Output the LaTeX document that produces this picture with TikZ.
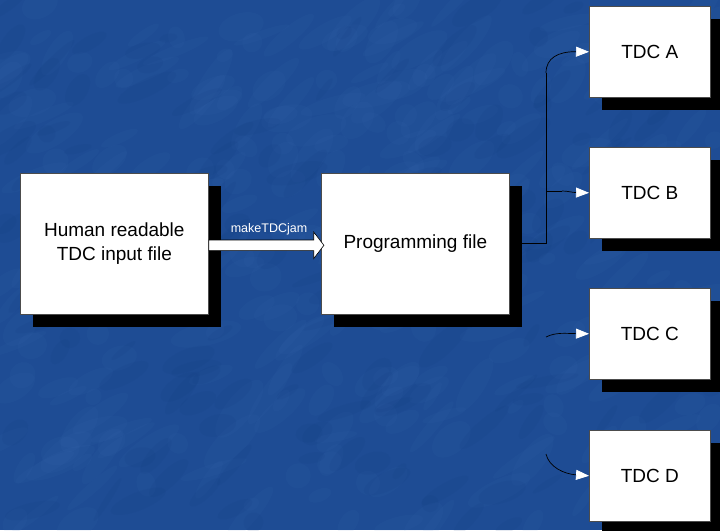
\documentclass[tikz,border=0pt]{standalone}
\usepackage{fontspec}
\setmainfont{Liberation Sans}
\usetikzlibrary{arrows.meta,shapes.arrows,shadows}
\definecolor{slideblue}{RGB}{30,76,148}
\definecolor{slidelight}{RGB}{70,120,190}
\definecolor{slidedark}{RGB}{18,58,125}
\pgfdeclarelayer{back}
\pgfdeclarelayer{wires}
\pgfsetlayers{back,wires,main}
\tikzset{
  card/.style={draw=black!70, line width=0.6pt, fill=white, inner sep=0pt,
    align=center, anchor=north west, font=\fontsize{19}{24}\selectfont,
    drop shadow={shadow xshift=13pt, shadow yshift=-13pt, fill=black, opacity=1}},
  bigcard/.style={card, minimum width=188pt, minimum height=141pt},
  tdccard/.style={card, minimum width=121pt, minimum height=91pt},
  feed/.style={draw=black, line width=0.7pt,
    -{Triangle[length=13pt,width=10pt,color=white,fill=white]}},
  blockarrow/.style={single arrow, draw=black, line width=0.6pt, fill=white,
    inner sep=5pt, minimum height=115pt, single arrow head extend=8pt,
    single arrow tip angle=105, anchor=west}
}
\begin{document}
\begin{tikzpicture}[x=1pt,y=-1pt]
\useasboundingbox (0,0) rectangle (720,530);
\begin{pgfonlayer}{back}
  \fill[slideblue] (0,0) rectangle (720,530);
  % soft mottled texture
  \pgfmathsetseed{7}
  \foreach \i in {1,...,320}{
    \pgfmathsetmacro{\px}{rnd*720}
    \pgfmathsetmacro{\py}{rnd*530}
    \pgfmathsetmacro{\rx}{8+rnd*30}
    \pgfmathsetmacro{\ry}{4+rnd*10}
    \pgfmathsetmacro{\ang}{10+rnd*50}
    \fill[slidelight, opacity=0.07, rotate around={\ang:(\px,\py)}]
      (\px,\py) ellipse ({\rx pt} and {\ry pt});
  }
  \foreach \i in {1,...,160}{
    \pgfmathsetmacro{\px}{rnd*720}
    \pgfmathsetmacro{\py}{rnd*530}
    \pgfmathsetmacro{\rx}{8+rnd*25}
    \pgfmathsetmacro{\ry}{3+rnd*8}
    \pgfmathsetmacro{\ang}{10+rnd*50}
    \fill[slidedark, opacity=0.10, rotate around={\ang:(\px,\py)}]
      (\px,\py) ellipse ({\rx pt} and {\ry pt});
  }
\end{pgfonlayer}

% source and output blocks
\node[bigcard] (src) at (20,173) {Human readable\\TDC input file};
\node[bigcard] (prog) at (321,173) {Programming file};

% target units
\node[tdccard] (tdca) at (589,6) {TDC A};
\node[tdccard] (tdcb) at (589,147) {TDC B};
\node[tdccard] (tdcc) at (589,288) {TDC C};
\node[tdccard] (tdcd) at (589,430) {TDC D};

% conversion step
\node[blockarrow] (conv) at ([yshift=-1.5pt]src.east) {};
\node[text=white, font=\fontsize{12.5}{14}\selectfont] (convlabel) at (269,229) {makeTDCjam};

% distribution lines
\coordinate (bus) at (546,243);
\coordinate (busa) at (546,73);
\coordinate (busb) at (546,191);
\coordinate (stubb) at (562,191);
\coordinate (stubc) at (546,337);
\coordinate (stubd) at (546,454);
\begin{pgfonlayer}{wires}
  \draw[line width=0.7pt] (prog.east |- bus) -- (bus) -- (busa);
  \draw[line width=0.7pt] (busb) -- (stubb);
\end{pgfonlayer}
\draw[feed] (busa) .. controls (546,58) and (558,51.5) .. (tdca.west);
\draw[feed] (stubb) .. controls (568,191) and (572,192.5) .. (tdcb.west);
\draw[feed] (stubc) .. controls (556,332) and (566,333.5) .. (tdcc.west);
\draw[feed] (stubd) .. controls (549,467) and (564,474) .. (tdcd.west);
\end{tikzpicture}
\end{document}
